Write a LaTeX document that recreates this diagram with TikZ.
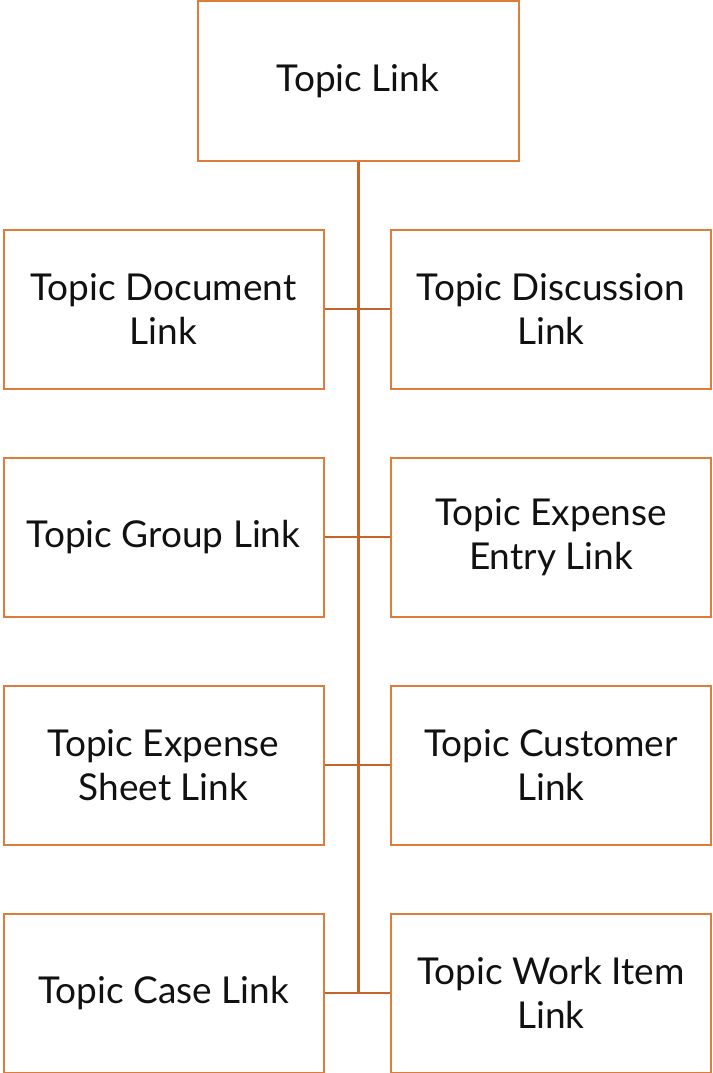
\documentclass[tikz,border=0pt]{standalone}
\usepackage{fontspec}
\setmainfont{Lato}
\definecolor{boxc}{RGB}{224,124,58}
\definecolor{linec}{RGB}{196,100,42}
\definecolor{txt}{RGB}{17,17,17}
\begin{document}
\begin{tikzpicture}[x=1pt,y=-1pt,
  box/.style={draw=boxc,line width=2pt,fill=white,minimum width=320pt,minimum height=159pt,inner sep=0pt,
    align=center,font=\fontsize{37}{44}\selectfont,text=txt},
  trunk/.style={draw=linec,line width=3pt},
  branch/.style={draw=linec,line width=2pt}]
\useasboundingbox (0,0) rectangle (712,1073);
\node[box,minimum width=321pt] (top) at (358,81) {Topic Link};
\node[box] (l1) at (163.5,309) {Topic Document\\Link};
\node[box] (r1) at (551,309) {Topic Discussion\\Link};
\node[box] (l2) at (163.5,537) {Topic Group Link};
\node[box] (r2) at (551,537) {Topic Expense\\Entry Link};
\node[box] (l3) at (163.5,765) {Topic Expense\\Sheet Link};
\node[box] (r3) at (551,765) {Topic Customer\\Link};
\node[box] (l4) at (163.5,993) {Topic Case Link};
\node[box] (r4) at (551,993) {Topic Work Item\\Link};
\coordinate (j1) at (top.south |- l1.east);
\coordinate (j2) at (top.south |- l2.east);
\coordinate (j3) at (top.south |- l3.east);
\coordinate (j4) at (top.south |- l4.east);
\draw[branch] (l1.east) -- (r1.west);
\draw[branch] (l2.east) -- (r2.west);
\draw[branch] (l3.east) -- (r3.west);
\draw[branch] (l4.east) -- (r4.west);
\draw[trunk] (top.south) -- (j4);
\end{tikzpicture}
\end{document}
